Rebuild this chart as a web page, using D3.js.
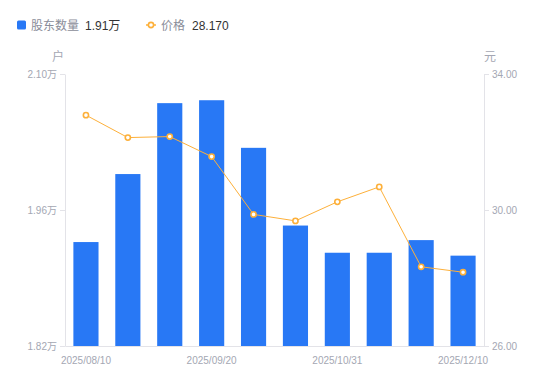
<!DOCTYPE html>
<html>
<head>
<meta charset="utf-8">
<script src="https://cdn.jsdelivr.net/npm/d3@7"></script>
<style>
  html, body { margin: 0; padding: 0; background: #fff; }
  svg { display: block; font-family: "Liberation Sans", Arial, "Noto Sans CJK SC", sans-serif; }
</style>
</head>
<body>
<svg id="chart" width="550" height="381"></svg>
<script>
const dates = ["2025/08/10","2025/08/20","2025/09/10","2025/09/20","2025/10/10","2025/10/20","2025/10/31","2025/11/10","2025/11/20","2025/12/10"];
const holders = [1.927, 1.997, 2.070, 2.073, 2.024, 1.944, 1.916, 1.916, 1.929, 1.913]; // 万户
const prices = [32.79, 32.13, 32.16, 31.57, 29.87, 29.68, 30.24, 30.68, 28.33, 28.17];
const leftTicks = [1.82, 1.96, 2.10];
const rightTicks = [26, 30, 34];
const shownDates = ["2025/08/10","2025/09/20","2025/10/31","2025/12/10"];

const svg = d3.select("#chart");
const m = {left: 65, right: 484, top: 74, bottom: 346};
const barColor = "#2878F5";
const lineColor = "#FDB03A";
const axisColor = "#E3E3E8";
const labelColor = "#A4A7B3";

const x = d3.scaleBand().domain(dates).range([m.left, m.right]).paddingInner(0.4).paddingOuter(0.2);
const yL = d3.scaleLinear().domain([1.82, 2.10]).range([m.bottom, m.top]);
const yR = d3.scaleLinear().domain([26, 34]).range([m.bottom, m.top]);

// bars
svg.append("g").selectAll("rect").data(holders).join("rect")
  .attr("x", (d, i) => x(dates[i]))
  .attr("width", x.bandwidth())
  .attr("y", d => yL(d))
  .attr("height", d => m.bottom - yL(d))
  .attr("fill", barColor);

// axes
const styleAxis = g => {
  g.select(".domain").attr("stroke", axisColor);
  g.selectAll(".tick line").attr("stroke", axisColor);
  g.selectAll(".tick text").attr("fill", labelColor).attr("font-size", 10)
    .attr("font-family", "'Liberation Sans', Arial, 'Noto Sans CJK SC', sans-serif");
};

svg.append("g").attr("transform", `translate(${m.left},0)`)
  .call(d3.axisLeft(yL).tickValues(leftTicks).tickSize(5).tickSizeOuter(0).tickPadding(3)
    .tickFormat(d => d.toFixed(2) + "万"))
  .call(styleAxis);

svg.append("g").attr("transform", `translate(${m.right},0)`)
  .call(d3.axisRight(yR).tickValues(rightTicks).tickSize(5).tickSizeOuter(0).tickPadding(3)
    .tickFormat(d => d.toFixed(2)))
  .call(styleAxis);

svg.append("g").attr("transform", `translate(0,${m.bottom})`)
  .call(d3.axisBottom(x).tickValues(shownDates).tickSize(0).tickPadding(11))
  .call(g => {
    g.select(".domain").attr("stroke", axisColor);
    g.selectAll(".tick text").attr("fill", labelColor).attr("font-size", 10);
  });

// line
const line = d3.line().x((d, i) => x(dates[i]) + x.bandwidth() / 2).y(d => yR(d));
svg.append("path").datum(prices).attr("d", line)
  .attr("fill", "none").attr("stroke", lineColor).attr("stroke-width", 1);
svg.append("g").selectAll("circle").data(prices).join("circle")
  .attr("cx", (d, i) => x(dates[i]) + x.bandwidth() / 2)
  .attr("cy", d => yR(d))
  .attr("r", 2.6)
  .attr("fill", "#fff").attr("stroke", lineColor).attr("stroke-width", 1.6);

// units
svg.append("text").attr("x", 58).attr("y", 61).attr("text-anchor", "middle")
  .attr("font-size", 12).attr("fill", labelColor).text("户");
svg.append("text").attr("x", 490).attr("y", 61).attr("text-anchor", "middle")
  .attr("font-size", 12).attr("fill", labelColor).text("元");

// legend
const lg = svg.append("g");
lg.append("rect").attr("x", 17).attr("y", 20.5).attr("width", 9).attr("height", 9).attr("rx", 1.5).attr("fill", barColor);
lg.append("text").attr("x", 31).attr("y", 29.5).attr("font-size", 12).attr("fill", "#8A8D99").text("股东数量");
lg.append("text").attr("x", 85).attr("y", 29.5).attr("font-size", 12).attr("fill", "#333").text(holders[holders.length - 1].toFixed(2) + "万");
lg.append("line").attr("x1", 146).attr("x2", 156).attr("y1", 25).attr("y2", 25).attr("stroke", lineColor).attr("stroke-width", 1.5);
lg.append("circle").attr("cx", 151).attr("cy", 25).attr("r", 2.6).attr("fill", "#fff").attr("stroke", lineColor).attr("stroke-width", 1.6);
lg.append("text").attr("x", 161).attr("y", 29.5).attr("font-size", 12).attr("fill", "#8A8D99").text("价格");
lg.append("text").attr("x", 192).attr("y", 29.5).attr("font-size", 12).attr("fill", "#333").text(prices[prices.length - 1].toFixed(3));
</script>
</body>
</html>
